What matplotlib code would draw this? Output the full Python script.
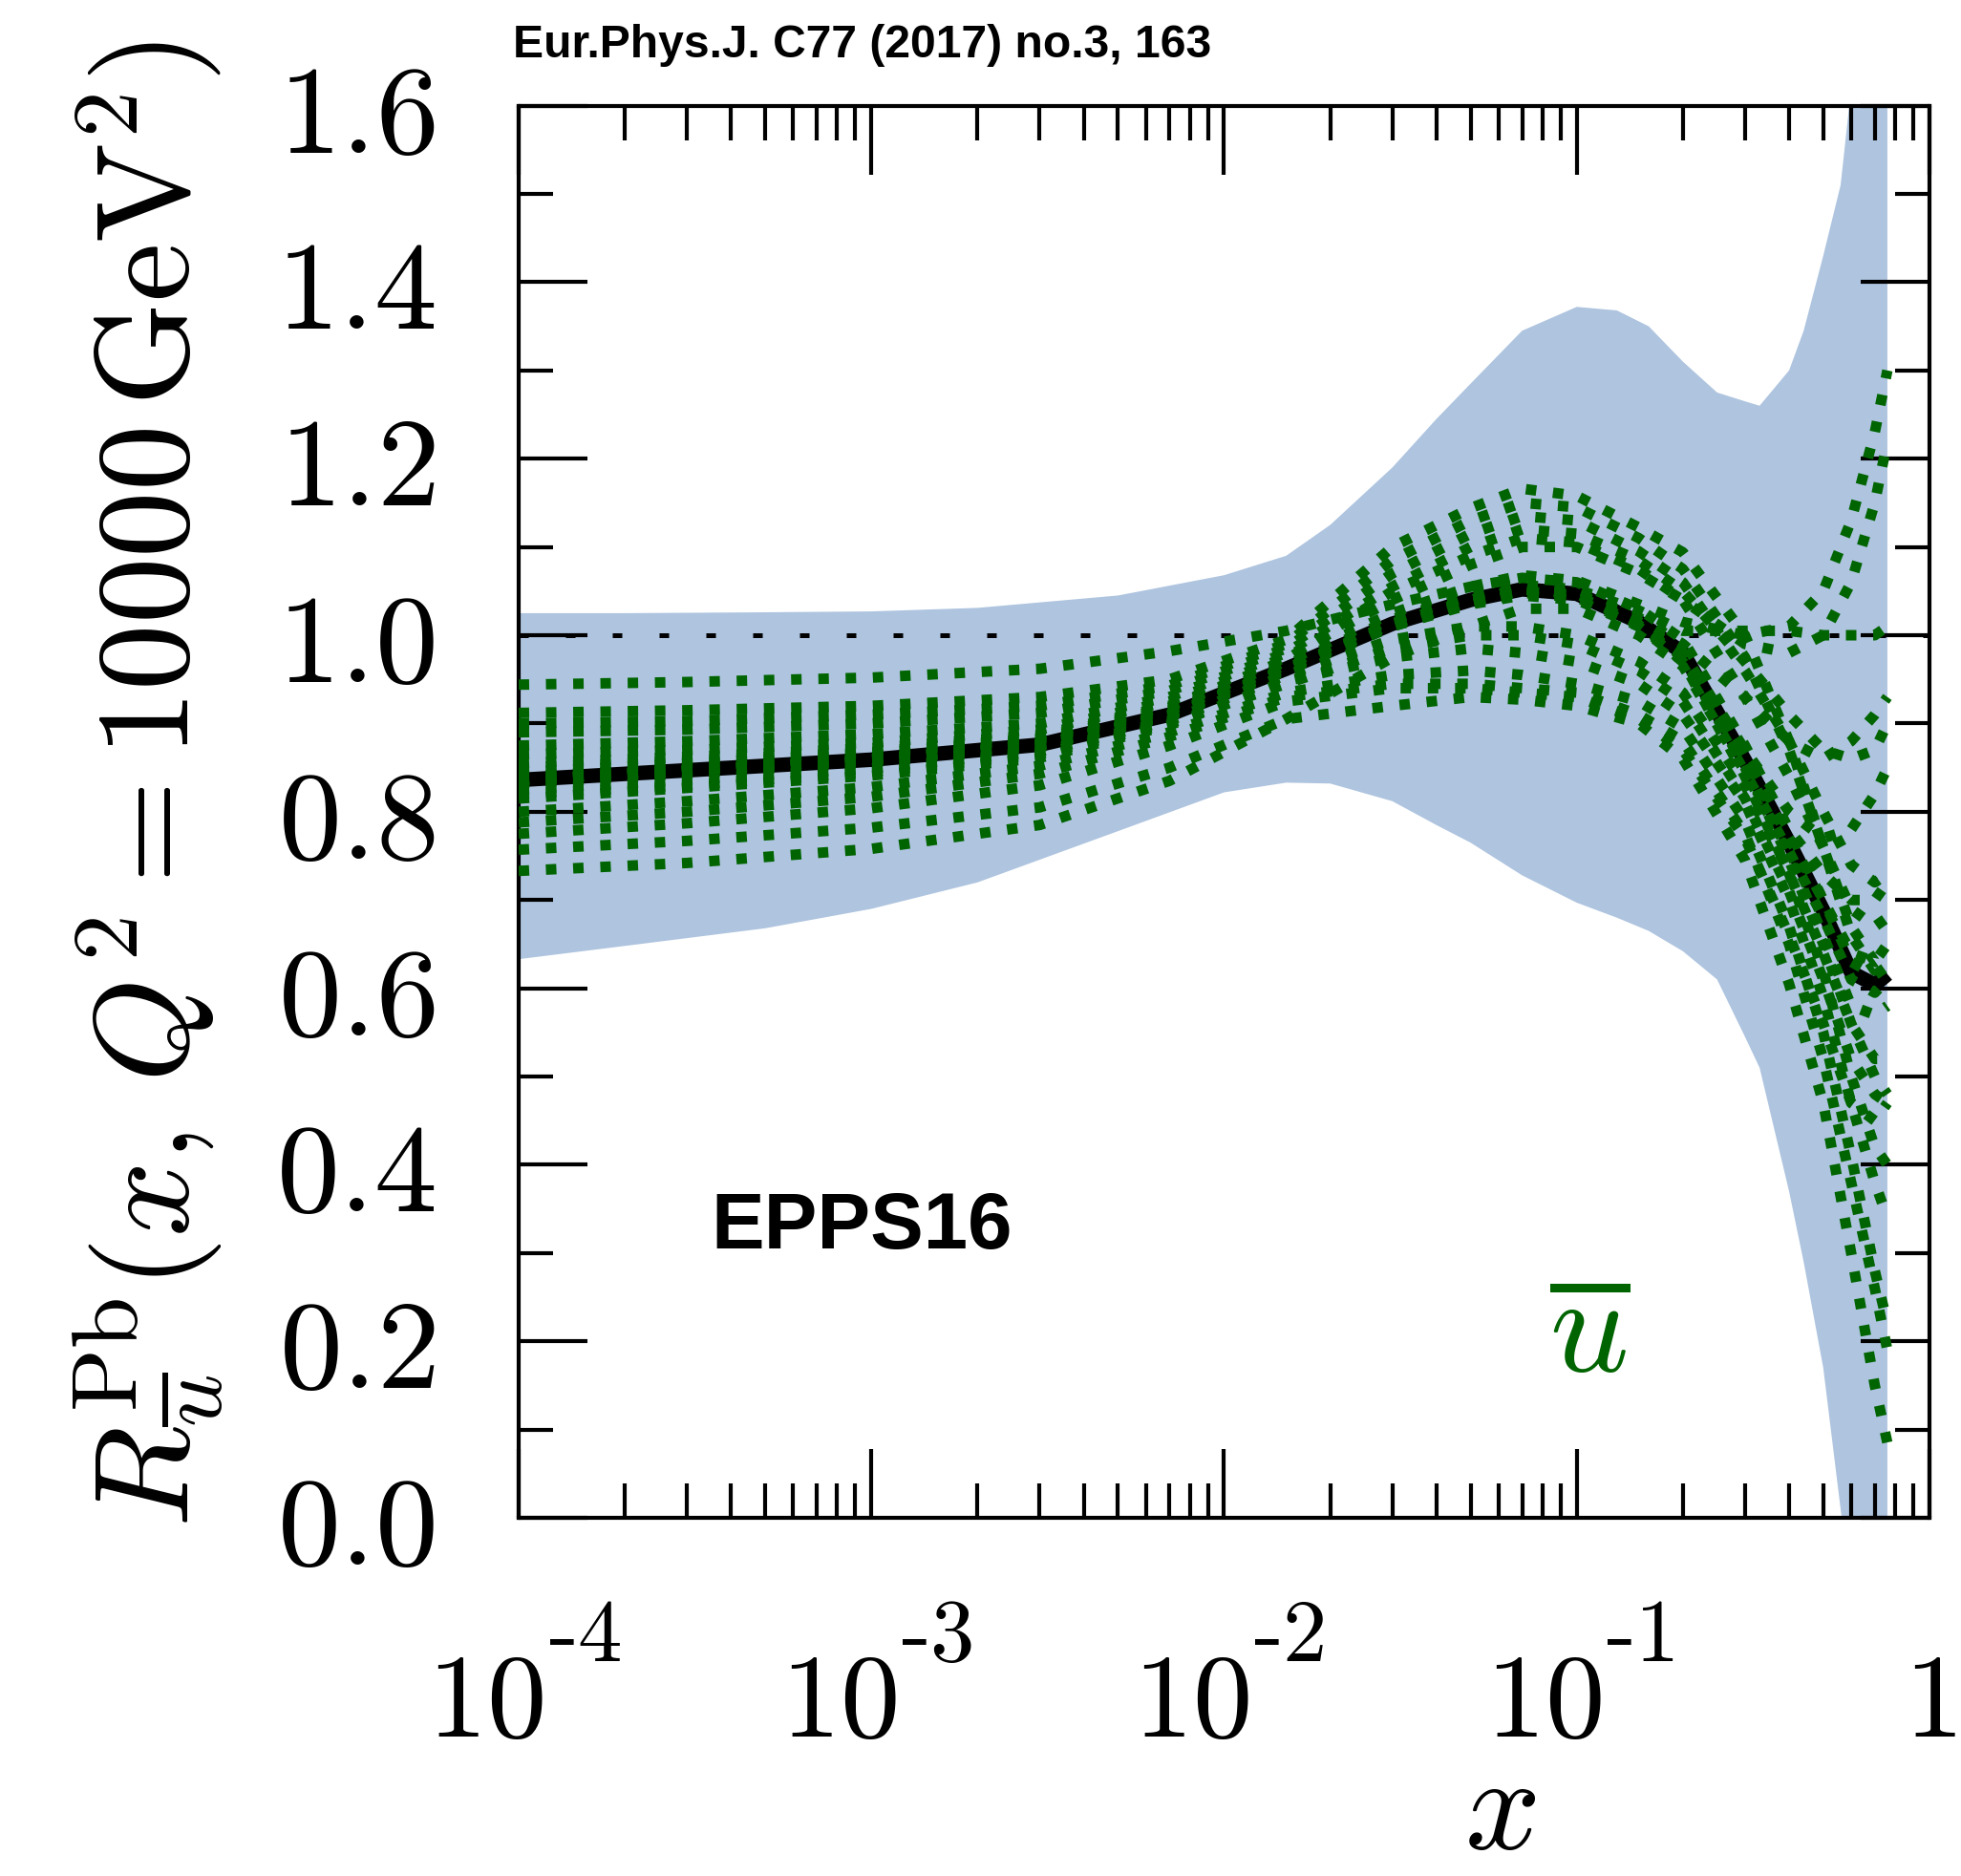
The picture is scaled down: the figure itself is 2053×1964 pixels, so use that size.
import numpy as np
import matplotlib
matplotlib.use("Agg")
import matplotlib.pyplot as plt
from matplotlib.ticker import LogLocator, MultipleLocator, NullFormatter, FixedLocator, FixedFormatter

plt.rcParams['mathtext.fontset'] = 'cm'
plt.rcParams['font.family'] = ['Liberation Sans', 'DejaVu Sans']

band_color = '#aec4df'
green = '#006400'

# x grid of the error band (EPPS16 Pb/p, ubar, Q^2 = 10^4 GeV^2)
x_band = [1e-4, 2e-4, 5e-4, 1e-3, 2e-3, 5e-3, 1e-2, 1.5e-2, 2e-2, 3e-2, 4e-2, 5e-2, 7e-2,
          0.1, 0.13, 0.16, 0.2, 0.25, 0.3, 0.33, 0.4, 0.44, 0.5, 0.56, 0.6, 0.7, 0.76]
band_lo = [0.633, 0.648, 0.668, 0.690, 0.720, 0.778, 0.822, 0.833, 0.832, 0.812, 0.785, 0.765, 0.728,
           0.697, 0.680, 0.665, 0.642, 0.610, 0.545, 0.510, 0.370, 0.290, 0.170, 0.010, -0.08, -0.30, -0.45]
band_hi = [1.025, 1.025, 1.026, 1.027, 1.031, 1.045, 1.068, 1.090, 1.125, 1.190, 1.245, 1.285, 1.345,
           1.372, 1.368, 1.350, 1.310, 1.275, 1.265, 1.260, 1.300, 1.345, 1.430, 1.510, 1.620, 1.900, 2.100]

# x nodes for the central fit and the error sets
x_node = [1e-4, 3e-4, 1e-3, 3e-3, 7e-3, 0.015, 0.03, 0.05, 0.07, 0.1, 0.15, 0.2, 0.3, 0.4, 0.5, 0.6, 0.7, 0.76]
central = [0.836, 0.847, 0.859, 0.876, 0.910, 0.962, 1.013, 1.040, 1.052, 1.047, 1.015, 0.980, 0.858, 0.765, 0.688, 0.618, 0.604, 0.616]

err01 = [0.944, 0.947, 0.952, 0.962, 0.982, 1.005, 1.035, 1.055, 1.065, 1.060, 1.030, 0.995, 0.875, 0.780, 0.700, 0.630, 0.615, 0.625]
err02 = [0.733, 0.742, 0.758, 0.785, 0.835, 0.905, 0.975, 1.010, 1.030, 1.030, 1.000, 0.965, 0.845, 0.755, 0.680, 0.610, 0.595, 0.610]
err03 = [0.912, 0.915, 0.920, 0.930, 0.950, 0.995, 1.100, 1.144, 1.166, 1.158, 1.122, 1.094, 1.000, 0.880, 0.760, 0.660, 0.620, 0.630]
err04 = [0.757, 0.767, 0.782, 0.805, 0.850, 0.905, 0.920, 0.930, 0.927, 0.920, 0.900, 0.860, 0.745, 0.605, 0.470, 0.300, 0.150, 0.085]
err05 = [0.900, 0.903, 0.910, 0.920, 0.943, 0.990, 1.085, 1.130, 1.150, 1.145, 1.110, 1.075, 0.975, 0.870, 0.760, 0.670, 0.630, 0.640]
err06 = [0.890, 0.893, 0.900, 0.912, 0.937, 0.985, 1.070, 1.115, 1.135, 1.130, 1.095, 1.060, 0.960, 0.880, 0.800, 0.740, 0.720, 0.730]
err07 = [0.875, 0.880, 0.888, 0.900, 0.930, 0.980, 1.055, 1.100, 1.120, 1.115, 1.085, 1.050, 0.970, 0.910, 0.870, 0.860, 0.870, 0.900]
err08 = [0.865, 0.870, 0.878, 0.893, 0.925, 0.975, 1.040, 1.080, 1.100, 1.100, 1.070, 1.040, 0.990, 0.980, 1.000, 1.060, 1.150, 1.220]
err09 = [0.855, 0.862, 0.872, 0.887, 0.920, 0.970, 1.025, 1.055, 1.068, 1.062, 1.035, 1.015, 1.000, 1.010, 1.050, 1.130, 1.230, 1.300]
err10 = [0.845, 0.855, 0.866, 0.882, 0.915, 0.966, 1.018, 1.045, 1.057, 1.052, 1.028, 1.005, 1.005, 1.005, 1.000, 1.000, 1.000, 1.010]
err11 = [0.835, 0.846, 0.858, 0.875, 0.909, 0.960, 1.010, 1.035, 1.045, 1.040, 1.010, 0.970, 0.860, 0.780, 0.730, 0.700, 0.700, 0.720]
err12 = [0.825, 0.836, 0.849, 0.868, 0.903, 0.955, 0.995, 1.010, 1.010, 1.000, 0.970, 0.935, 0.830, 0.730, 0.640, 0.560, 0.520, 0.520]
err13 = [0.815, 0.827, 0.841, 0.861, 0.898, 0.948, 0.975, 0.985, 0.980, 0.970, 0.945, 0.910, 0.810, 0.700, 0.590, 0.470, 0.380, 0.340]
err14 = [0.800, 0.812, 0.828, 0.852, 0.890, 0.935, 0.955, 0.960, 0.955, 0.945, 0.925, 0.895, 0.790, 0.670, 0.550, 0.410, 0.280, 0.220]
err15 = [0.788, 0.800, 0.817, 0.843, 0.885, 0.930, 0.945, 0.945, 0.940, 0.935, 0.910, 0.880, 0.775, 0.650, 0.520, 0.380, 0.260, 0.190]
err16 = [0.775, 0.787, 0.804, 0.830, 0.875, 0.925, 0.940, 0.940, 0.935, 0.930, 0.905, 0.870, 0.770, 0.660, 0.560, 0.470, 0.450, 0.470]
err17 = [0.836, 0.847, 0.859, 0.876, 0.910, 0.962, 1.013, 1.040, 1.052, 1.047, 1.015, 0.980, 0.870, 0.800, 0.770, 0.780, 0.820, 0.850]
err18 = [0.836, 0.847, 0.859, 0.876, 0.910, 0.962, 1.013, 1.040, 1.052, 1.047, 1.020, 0.990, 0.930, 0.880, 0.860, 0.880, 0.910, 0.930]
err19 = [0.836, 0.847, 0.859, 0.876, 0.910, 0.962, 1.013, 1.040, 1.052, 1.047, 1.012, 0.975, 0.850, 0.750, 0.660, 0.580, 0.570, 0.580]
err20 = [0.836, 0.847, 0.859, 0.876, 0.910, 0.962, 1.013, 1.040, 1.052, 1.047, 1.015, 0.978, 0.855, 0.745, 0.650, 0.560, 0.500, 0.480]
err21 = [0.840, 0.850, 0.862, 0.879, 0.912, 0.963, 1.012, 1.038, 1.050, 1.045, 1.012, 0.970, 0.840, 0.730, 0.620, 0.500, 0.420, 0.400]
err22 = [0.832, 0.843, 0.856, 0.873, 0.908, 0.960, 1.010, 1.036, 1.048, 1.043, 1.010, 0.975, 0.860, 0.770, 0.700, 0.640, 0.630, 0.650]
err23 = [0.850, 0.858, 0.868, 0.884, 0.918, 0.972, 1.050, 1.090, 1.110, 1.105, 1.075, 1.040, 0.930, 0.840, 0.760, 0.690, 0.670, 0.680]
err24 = [0.820, 0.830, 0.845, 0.865, 0.900, 0.945, 0.985, 1.000, 1.000, 0.990, 0.960, 0.925, 0.815, 0.710, 0.610, 0.520, 0.480, 0.470]

err_sets = [err01, err02, err03, err04, err05, err06, err07, err08, err09, err10, err11, err12,
            err13, err14, err15, err16, err17, err18, err19, err20, err21, err22, err23, err24]

y_ticks = [0.0, 0.2, 0.4, 0.6, 0.8, 1.0, 1.2, 1.4, 1.6]
x_ticks = [1e-4, 1e-3, 1e-2, 1e-1, 1.0]
x_exponents = ['-4', '-3', '-2', '-1', '']

fig = plt.figure(figsize=(20.53, 19.65), dpi=100)
ax = fig.add_axes([0.2645, 0.1908, 0.7194, 0.7524])

ax.fill_between(x_band, band_lo, band_hi, color=band_color, lw=0, zorder=1)
ax.axhline(1.0, color='k', lw=3.6, dashes=(2, 7.8), zorder=2)
ax.plot(x_node, central, color='k', lw=11, solid_capstyle='butt', zorder=3)
for e in err_sets:
    ax.plot(x_node, e, color=green, lw=7.9, dashes=(1.0, 1.6), zorder=4)

ax.set_xscale('log')
ax.set_xlim(1e-4, 1.0)
ax.set_ylim(0, 1.6)

ax.xaxis.set_major_locator(FixedLocator(x_ticks))
ax.xaxis.set_major_formatter(NullFormatter())
ax.xaxis.set_minor_locator(LogLocator(base=10, subs=np.arange(2, 10), numticks=100))
ax.xaxis.set_minor_formatter(NullFormatter())
ax.yaxis.set_major_locator(FixedLocator(y_ticks))
ax.yaxis.set_major_formatter(FixedFormatter([r'$%.1f$' % v for v in y_ticks]))
ax.yaxis.set_minor_locator(MultipleLocator(0.1))

ax.tick_params(which='both', direction='in', top=True, right=True, width=3, color='k')
ax.tick_params(which='major', length=52)
ax.tick_params(which='minor', length=26)
ax.tick_params(axis='y', which='major', labelsize=95, pad=63)
for s in ax.spines.values():
    s.set_linewidth(3)
ax.set_axisbelow(False)

# decade labels: mantissa plus a raised exponent with a plain hyphen
for xt, ex in zip(x_ticks, x_exponents):
    if ex:
        ax.annotate(r'$10$', xy=(xt, 0), xycoords=('data', 'axes fraction'),
                    xytext=(19, -164), textcoords='offset points',
                    ha='right', va='baseline', fontsize=90, annotation_clip=False)
        ax.annotate(r'$\text{%s}$' % ex, xy=(xt, 0), xycoords=('data', 'axes fraction'),
                    xytext=(22, -107), textcoords='offset points',
                    ha='left', va='baseline', fontsize=67, annotation_clip=False)
    else:
        ax.annotate(r'$1$', xy=(xt, 0), xycoords=('data', 'axes fraction'),
                    xytext=(0, -164), textcoords='offset points',
                    ha='center', va='baseline', fontsize=90, annotation_clip=False)

fig.text(0.0760, 0.582, r'$R^{\mathrm{Pb}}_{\overline{u}}(x,\,Q^2=10000\,\mathrm{GeV}^2)$',
         rotation=90, ha='center', va='center', fontsize=100)
fig.text(0.765, 0.0005, r'$x$', ha='center', va='bottom', fontsize=100)

fig.text(0.2616, 0.9695, 'Eur.Phys.J. C77 (2017) no.3, 163', fontsize=34.6,
         fontweight='bold', ha='left', va='baseline')
ax.text(0.136, 0.1914, 'EPPS16', transform=ax.transAxes, fontsize=60,
        fontweight='bold', ha='left', va='baseline')
ax.text(0.759, 0.1044, r'$\overline{u}$', transform=ax.transAxes, fontsize=104,
        color=green, ha='center', va='baseline')

fig.savefig('out.png', dpi=100)
